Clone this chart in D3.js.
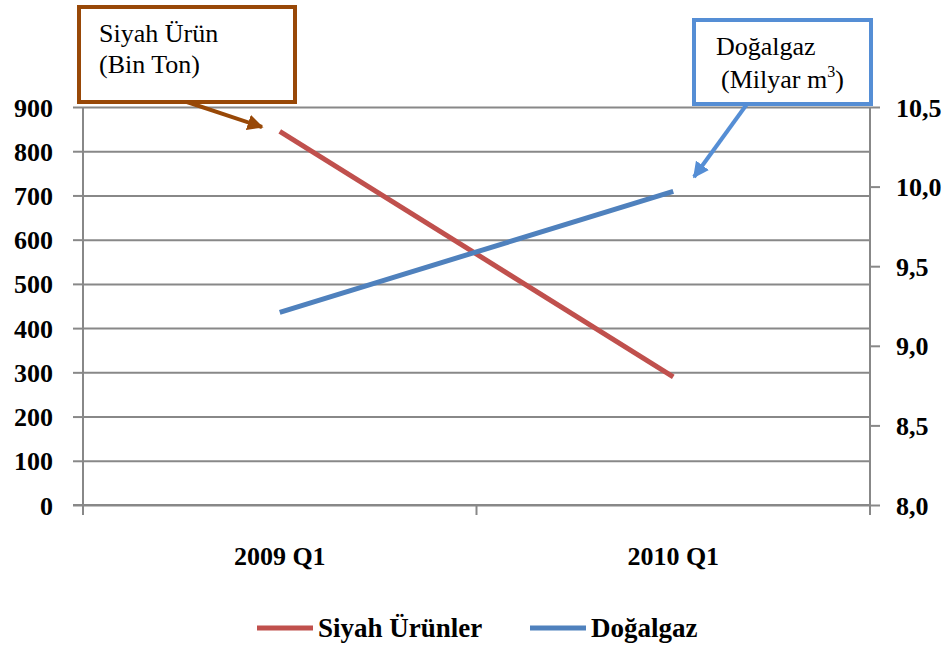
<!DOCTYPE html>
<html><head><meta charset="utf-8">
<script src="https://cdn.jsdelivr.net/npm/d3@7"></script>
<style>html,body{margin:0;padding:0;background:#fff;}
text{font-family:"Liberation Serif","Tinos","Times New Roman","DejaVu Serif",serif;}
</style>
</head><body>
<svg id="c" width="951" height="650"></svg>
<script>
const categories = ["2009 Q1", "2010 Q1"];
const siyahUrunler = [845, 290];
const dogalgaz = [9.21, 9.97];
const leftTicks = [0,100,200,300,400,500,600,700,800,900];
const rightTicks = [8.0,8.5,9.0,9.5,10.0,10.5];
const seriesNames = ["Siyah Ürünler", "Doğalgaz"];

const svg = d3.select("#c");
const L = 83, R = 870, T = 107, B = 505;
const x = d3.scaleBand().domain(categories).range([L, R]).padding(0);
const yL = d3.scaleLinear().domain([0, 900]).range([B, T]);
const yR = d3.scaleLinear().domain([8, 10.5]).range([B, T]);
const gridCol = "#888888";

// gridlines + left ticks
const gL = svg.append("g").attr("transform", `translate(${L},0)`)
  .call(d3.axisLeft(yL).tickValues(leftTicks).tickSize(10).tickPadding(20).tickFormat(d3.format("d")));
gL.attr("font-family", null);
gL.select(".domain").remove();
gL.selectAll(".tick line").attr("stroke", gridCol).attr("stroke-width", 2);
gL.selectAll(".tick").append("line").attr("x1", 0).attr("x2", R - L)
  .attr("stroke", gridCol).attr("stroke-width", 2);
gL.selectAll(".tick text").attr("font-weight", "bold")
  .attr("font-size", 26).attr("fill", "#000").attr("dy", "0.35em");

// left axis line
svg.append("line").attr("x1", L).attr("x2", L).attr("y1", T).attr("y2", B + 10)
  .attr("stroke", gridCol).attr("stroke-width", 2);

// right axis
const gR = svg.append("g").attr("transform", `translate(${R},0)`)
  .call(d3.axisRight(yR).tickValues(rightTicks).tickSize(10).tickPadding(16)
    .tickFormat(d => d3.format(".1f")(d).replace(".", ",")));
gR.attr("font-family", null);
gR.select(".domain").remove();
gR.selectAll(".tick line").attr("stroke", gridCol).attr("stroke-width", 2);
gR.selectAll(".tick text").attr("font-weight", "bold")
  .attr("font-size", 26).attr("fill", "#000").attr("dy", "0.35em");
svg.append("line").attr("x1", R).attr("x2", R).attr("y1", T).attr("y2", B + 10)
  .attr("stroke", gridCol).attr("stroke-width", 2);

// x axis ticks at band boundaries
const bounds = [L, ...categories.slice(1).map(c => x(c)), R];
svg.selectAll(".xt").data(bounds).enter().append("line")
  .attr("x1", d => d).attr("x2", d => d).attr("y1", B).attr("y2", B + 10)
  .attr("stroke", gridCol).attr("stroke-width", 2);
svg.append("line").attr("x1", L - 10).attr("x2", R).attr("y1", B).attr("y2", B)
  .attr("stroke", gridCol).attr("stroke-width", 2);
svg.selectAll(".xl").data(categories).enter().append("text")
  .attr("x", d => x(d) + x.bandwidth() / 2).attr("y", 565)
  .attr("text-anchor", "middle").attr("font-weight", "bold")
  .attr("font-size", 26).text(d => d);

// series lines
const cx = d => x(d) + x.bandwidth() / 2;
const lineL = d3.line().x((d, i) => cx(categories[i])).y(d => yL(d));
const lineR = d3.line().x((d, i) => cx(categories[i])).y(d => yR(d));
svg.append("path").attr("d", lineL(siyahUrunler)).attr("fill", "none")
  .attr("stroke", "#C0504D").attr("stroke-width", 5);
svg.append("path").attr("d", lineR(dogalgaz)).attr("fill", "none")
  .attr("stroke", "#4F81BD").attr("stroke-width", 5);

// arrow markers
const defs = svg.append("defs");
function marker(id, col) {
  defs.append("marker").attr("id", id).attr("viewBox", "0 0 10 10").attr("refX", 9).attr("refY", 5)
    .attr("markerWidth", 4).attr("markerHeight", 4).attr("orient", "auto")
    .attr("markerUnits", "strokeWidth")
    .append("path").attr("d", "M0,0 L10,5 L0,10 Z").attr("fill", col);
}
marker("ab", "#984807");
marker("abl", "#558ED5");

// callout 1
const brown = "#984807";
svg.append("rect").attr("x", 79).attr("y", 7).attr("width", 216).attr("height", 95)
  .attr("fill", "#fff").attr("stroke", brown).attr("stroke-width", 4);
svg.append("line").attr("x1", 187).attr("y1", 102).attr("x2", 262).attr("y2", 127)
  .attr("stroke", brown).attr("stroke-width", 4).attr("marker-end", "url(#ab)");
svg.append("text").attr("x", 99).attr("y", 42).attr("font-size", 26).text("Siyah Ürün");
svg.append("text").attr("x", 99).attr("y", 73).attr("font-size", 26).text("(Bin Ton)");

// callout 2
const blue = "#558ED5";
svg.append("rect").attr("x", 694).attr("y", 20).attr("width", 177).attr("height", 84)
  .attr("fill", "#fff").attr("stroke", blue).attr("stroke-width", 4);
svg.append("line").attr("x1", 747).attr("y1", 104).attr("x2", 694).attr("y2", 177)
  .attr("stroke", blue).attr("stroke-width", 4).attr("marker-end", "url(#abl)");
svg.append("text").attr("x", 716).attr("y", 55).attr("font-size", 26).text("Doğalgaz");
const t2 = svg.append("text").attr("x", 721).attr("y", 88).attr("font-size", 26);
t2.append("tspan").text("(Milyar m");
t2.append("tspan").attr("font-size", 16).attr("dy", -11).text("3");
t2.append("tspan").attr("dy", 11).text(")");

// legend
const legCols = ["#C0504D", "#4F81BD"];
const legX = [257, 530];
seriesNames.forEach((n, i) => {
  svg.append("line").attr("x1", legX[i]).attr("x2", legX[i] + 56).attr("y1", 628).attr("y2", 628)
    .attr("stroke", legCols[i]).attr("stroke-width", 5);
  svg.append("text").attr("x", legX[i] + 61).attr("y", 637)
    .attr("font-weight", "bold").attr("font-size", 27).text(n);
});
</script>
</body></html>
